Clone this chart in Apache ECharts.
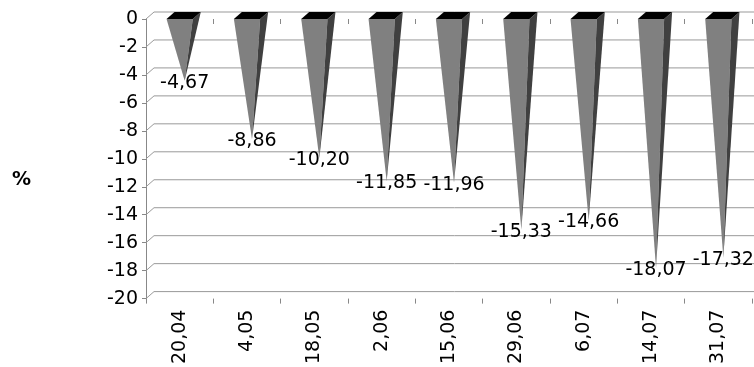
<!DOCTYPE html>
<html>
<head>
<meta charset="utf-8">
<script src="https://cdn.jsdelivr.net/npm/echarts@6/dist/echarts.min.js"></script>
<style>
  html, body { margin: 0; padding: 0; background: #fff; }
  #chart { width: 754px; height: 367px; }
</style>
</head>
<body>
<div id="chart"></div>
<script>
// data
const dates = ['20,04', '4,05', '18,05', '2,06', '15,06', '29,06', '6,07', '14,07', '31,07'];
const values = [-4.67, -8.86, -10.20, -11.85, -11.96, -15.33, -14.66, -18.07, -17.32];
const gridTicks = [0, -2, -4, -6, -8, -10, -12, -14, -16, -18, -20];

// 3d depth offset of the back wall
const DX = 8;
const DY = -7;
const FONT = 'DejaVu Sans';

function fmt(v) {
    return v.toFixed(2).replace('.', ',');
}

// back wall lines + left wall diagonals
function renderWall(params, api) {
    const sys = params.coordSys;
    const y = api.coord([0, api.value(0)])[1];
    const lineStyle = { stroke: '#999', lineWidth: 1 };
    return {
        type: 'group',
        children: [
            { type: 'line', shape: { x1: sys.x, y1: y, x2: sys.x + DX, y2: y + DY }, style: lineStyle },
            { type: 'line', shape: { x1: sys.x + DX, y1: y + DY, x2: sys.x + sys.width + DX, y2: y + DY }, style: lineStyle }
        ]
    };
}

function renderPyramid(params, api) {
    const i = api.value(0);
    const v = api.value(1);
    const base = api.coord([i, 0]);
    const tip = api.coord([i, v]);
    const w = api.size([1, 0])[0] * 0.195;
    const cx = base[0], y0 = base[1];
    const ax = cx + DX / 2 + 1, ay = tip[1] + DY / 2;
    return {
        type: 'group',
        children: [
            { type: 'polygon', shape: { points: [[cx - w, y0], [cx + w, y0], [ax, ay]] }, style: { fill: '#808080' } },
            { type: 'polygon', shape: { points: [[cx + w, y0], [cx + w + DX, y0 + DY], [ax, ay]] }, style: { fill: '#404040' } },
            { type: 'polygon', shape: { points: [[cx - w, y0], [cx + w, y0], [cx + w + DX, y0 + DY], [cx - w + DX, y0 + DY]] }, style: { fill: '#000' } },
            {
                type: 'text',
                x: ax, y: ay + 2,
                style: { text: fmt(v), font: '19px "' + FONT + '"', fill: '#000', align: 'center', verticalAlign: 'middle' },
                z2: 10
            }
        ]
    };
}

const chart = echarts.init(document.getElementById('chart'));
chart.setOption({
    animation: false,
    grid: { left: 146, right: 2, top: 19, bottom: 66 },
    graphic: [{
        type: 'text', left: 12, top: 171,
        style: { text: '%', font: 'bold 19px "' + FONT + '"', fill: '#000' }
    }],
    xAxis: [{
        type: 'category',
        data: dates,
        position: 'bottom',
        axisLine: { show: false, onZero: false },
        axisTick: { show: true, length: 5, lineStyle: { color: '#888' } },
        axisLabel: { rotate: 90, margin: 11, color: '#000', fontFamily: FONT, fontSize: 19 },
        splitLine: { show: false }
    }, {
        type: 'category',
        data: dates,
        position: 'top',
        axisLine: { show: false, onZero: false },
        axisTick: { show: true, inside: true, length: 5, lineStyle: { color: '#888' } },
        axisLabel: { show: false },
        splitLine: { show: false }
    }],
    yAxis: {
        type: 'value',
        min: -20, max: 0, interval: 2,
        axisLine: { show: true, lineStyle: { color: '#888' } },
        axisTick: { show: true, length: 4, lineStyle: { color: '#888' } },
        axisLabel: { margin: 8, color: '#000', fontFamily: FONT, fontSize: 19, padding: [3, 0, 0, 0] },
        splitLine: { show: false }
    },
    series: [{
        type: 'custom',
        renderItem: renderWall,
        data: gridTicks,
        encode: { y: 0 },
        silent: true,
        z: 1
    }, {
        type: 'custom',
        renderItem: renderPyramid,
        data: values.map((v, i) => [i, v]),
        encode: { x: 0, y: 1 },
        z: 2
    }]
});
</script>
</body>
</html>
